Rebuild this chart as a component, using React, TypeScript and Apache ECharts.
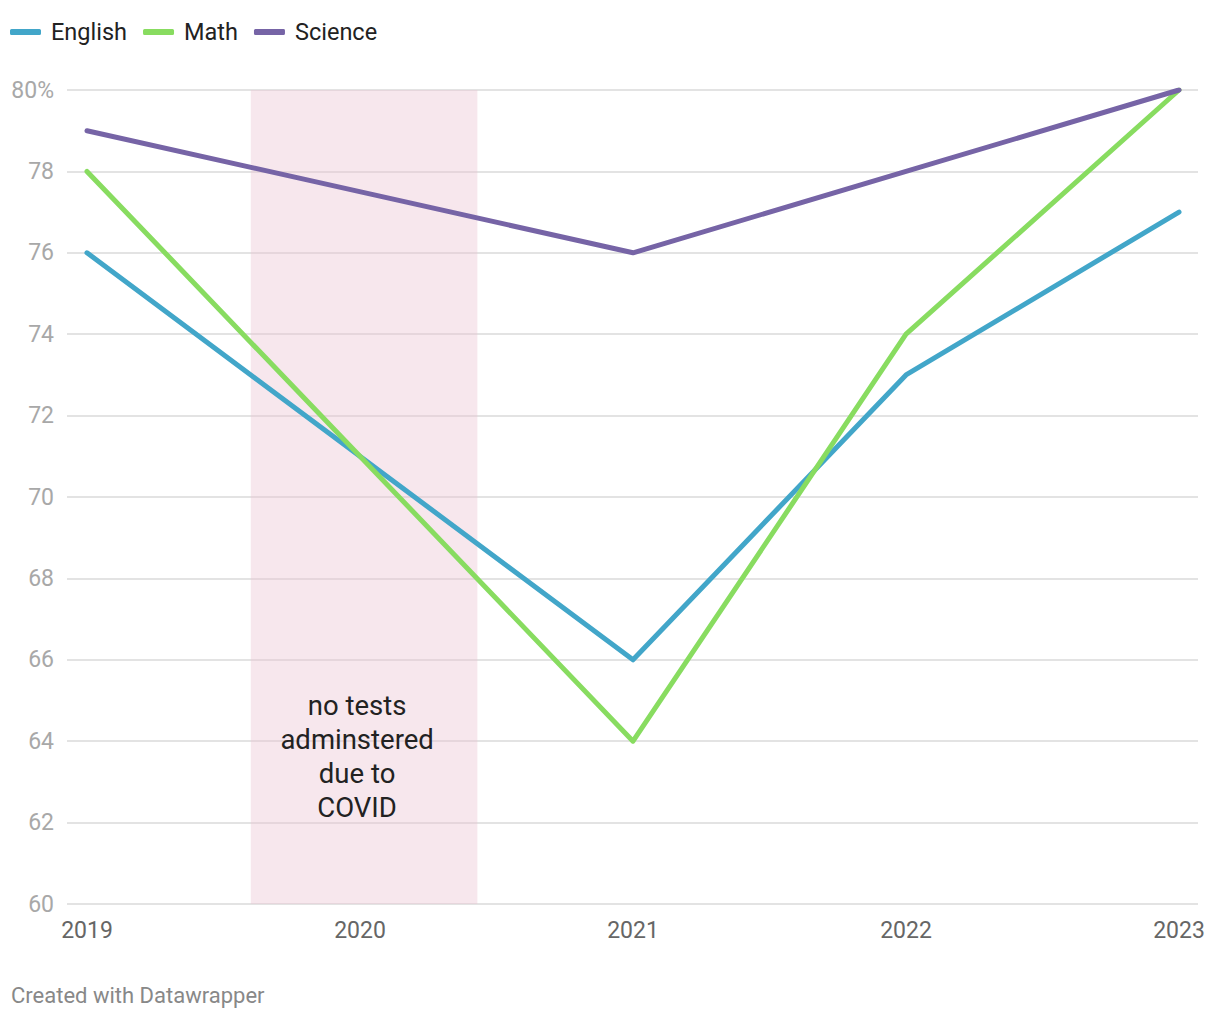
import React, { useEffect, useRef } from "react";
import * as echarts from "echarts";

const years = [2019, 2020, 2021, 2022, 2023];
const english = [76, null, 66, 73, 77];
const math = [78, null, 64, 74, 80];
const science = [79, null, 76, 78, 80];
const seriesNames = ["English", "Math", "Science"];
const colors = ["#42a6c9", "#88dc60", "#7664a6"];
const yTicks = [60, 62, 64, 66, 68, 70, 72, 74, 76, 78, 80];
const covidRange = [2019.6, 2020.43];
const covidNote = "no tests\nadminstered\ndue to\nCOVID";

export default function App() {
  const ref = useRef<HTMLDivElement>(null);
  useEffect(() => {
    const chart = echarts.init(ref.current!, null, { renderer: "svg" });
    const font = "Roboto, 'Noto Sans', sans-serif";
    const mk = (vals: (number | null)[]) => years.map((y, i) => [y, vals[i]]);
    const all = [english, math, science];
    chart.setOption({
      animation: false,
      textStyle: { fontFamily: font },
      legend: {
        left: 5,
        top: 15,
        icon: "roundRect",
        itemWidth: 31,
        itemHeight: 6,
        itemGap: 16,
        textStyle: { fontSize: 23.5, color: "#222", padding: [0, 0, 0, 5], fontFamily: font },
        data: seriesNames,
      },
      grid: { left: 67, right: 22, top: 90, bottom: 116, containLabel: false },
      xAxis: {
        type: "value",
        min: 2019 - 20 / 273,
        max: 2023 + 19 / 273,
        splitLine: { show: false },
        axisLine: { show: false },
        axisTick: { show: false },
        axisLabel: {
          customValues: years,
          formatter: (v: number) => String(Math.round(v)),
          color: "#666",
          fontSize: 23,
          margin: 15,
          fontFamily: font,
        },
      },
      yAxis: {
        type: "value",
        min: 60,
        max: 80,
        interval: 2,
        axisLine: { show: false },
        axisTick: { show: false },
        splitLine: { lineStyle: { color: "#e3e3e3", width: 2 } },
        axisLabel: {
          customValues: yTicks,
          formatter: (v: number) => (v === 80 ? "80%" : String(v)),
          color: "#a8a8a8",
          fontSize: 23,
          margin: 13,
          fontFamily: font,
        },
      },
      series: seriesNames.map((name, i) => ({
        name,
        type: "line",
        data: mk(all[i]),
        connectNulls: true,
        showSymbol: false,
        symbol: "none",
        lineStyle: { color: colors[i], width: 5, cap: "round", join: "round" },
        itemStyle: { color: colors[i] },
        z: 3 + i,
        markArea:
          i === 0
            ? {
                silent: true,
                itemStyle: { color: "rgba(235, 195, 210, 0.4)" },
                label: {
                  show: true,
                  position: "insideBottom",
                  distance: 80,
                  offset: [-7, 0],
                  formatter: covidNote,
                  fontSize: 27.5,
                  lineHeight: 34,
                  color: "#222",
                  align: "center",
                  fontFamily: font,
                },
                data: [[{ xAxis: covidRange[0], yAxis: 80 }, { xAxis: covidRange[1], yAxis: 60 }]],
              }
            : undefined,
      })),
      graphic: [
        {
          type: "text",
          left: 11,
          top: 984,
          style: { text: "Created with Datawrapper", fontSize: 22, fill: "#888", fontFamily: font },
        },
      ],
    });
    return () => chart.dispose();
  }, []);
  return <div ref={ref} style={{ width: 1220, height: 1020, margin: -8 }} />;
}
